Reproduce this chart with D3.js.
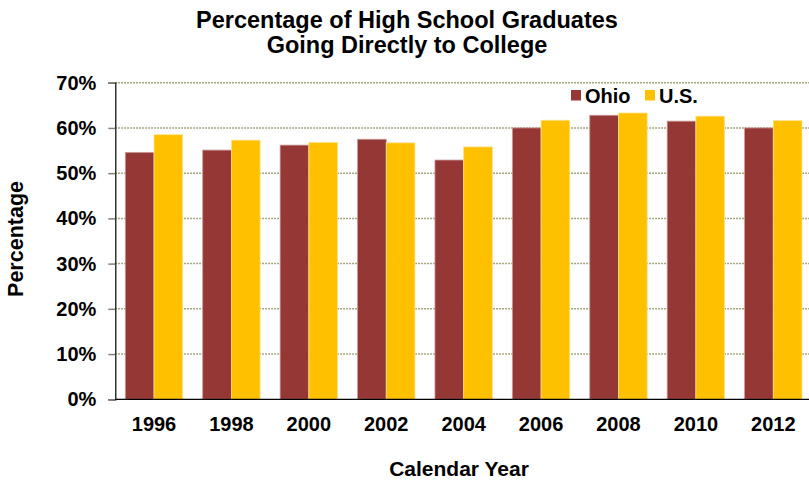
<!DOCTYPE html>
<html><head><meta charset="utf-8">
<script src="https://cdn.jsdelivr.net/npm/d3@7"></script>
<style>body{margin:0;background:#fff}svg{display:block;font-family:"Liberation Sans",Arial,sans-serif;font-weight:bold}</style>
</head><body><svg id="c" width="809" height="484"></svg>
<script>
const years = ["1996","1998","2000","2002","2004","2006","2008","2010","2012"];
const ohio = [54.6,55.1,56.2,57.5,52.9,60.0,62.8,61.5,60.0];
const us = [58.5,57.3,56.8,56.7,55.8,61.7,63.3,62.6,61.6];
const yTicks = [0,10,20,30,40,50,60,70];
const seriesNames = ["Ohio","U.S."];
const colors = ["#953735","#FFC000"];

const svg = d3.select("#c");
const m = {l:115.3, t:82.7, r:812, b:399.3};
const x = d3.scaleBand().domain(years).range([m.l, m.r]).paddingInner(20/77.4).paddingOuter(10/77.4);
const xs = d3.scaleBand().domain(seriesNames).range([0, x.bandwidth()]);
const y = d3.scaleLinear().domain([0,70]).range([m.b, m.t]);

// gridlines
svg.append("g").selectAll("line").data(yTicks.filter(d=>d>0)).join("line")
  .attr("x1", m.l).attr("x2", 809).attr("y1", d=>y(d)).attr("y2", d=>y(d))
  .attr("stroke","#8f8a5a").attr("stroke-width",1.5).attr("stroke-dasharray","1.5,1.5");

// bars
const data = years.map((yr,i)=>({yr, vals:[ohio[i], us[i]]}));
const g = svg.append("g").selectAll("g").data(data).join("g").attr("transform", d=>`translate(${x(d.yr)},0)`);
g.selectAll("rect").data(d=>d.vals.map((v,j)=>({v,s:seriesNames[j],j}))).join("rect")
  .attr("x", d=>xs(d.s)).attr("width", xs.bandwidth())
  .attr("y", d=>y(d.v)).attr("height", d=>y(0)-y(d.v))
  .attr("fill", d=>colors[d.j])
  .attr("stroke", d=>d.j===0?"#c99a99":"#ffe08a").attr("stroke-width",0.8);

// y axis
const ya = d3.axisLeft(y).tickValues(yTicks).tickFormat(d=>d+"%").tickSize(7).tickPadding(12);
const yg = svg.append("g").attr("transform",`translate(${m.l},0)`).call(ya);
yg.select(".domain").attr("stroke","#000").attr("stroke-width",1.2);
yg.selectAll(".tick line").attr("stroke","#808080").attr("stroke-width",1.5);
yg.selectAll(".tick text").attr("font-size",20).attr("font-weight","bold").attr("fill","#000")
  .attr("font-family","Liberation Sans, Arial, sans-serif");

// x axis
const xa = d3.axisBottom(x).tickSize(0).tickPadding(17.5);
const xg = svg.append("g").attr("transform",`translate(0,${m.b})`).call(xa);
xg.select(".domain").attr("d", `M${m.l},0H809`).attr("stroke","#000").attr("stroke-width",1.2);
xg.selectAll(".tick text").attr("font-size",20).attr("font-weight","bold").attr("fill","#000")
  .attr("font-family","Liberation Sans, Arial, sans-serif");

// title
svg.append("text").attr("text-anchor","middle").attr("font-size",23.5).attr("x",407).attr("y",27.5)
  .text("Percentage of High School Graduates");
svg.append("text").attr("text-anchor","middle").attr("font-size",23.5).attr("x",407).attr("y",52.5)
  .text("Going Directly to College");

// axis titles
svg.append("text").attr("x",459).attr("y",476).attr("text-anchor","middle").attr("font-size",21).text("Calendar Year");
svg.append("text").attr("transform","translate(23,239) rotate(-90)").attr("text-anchor","middle").attr("font-size",21.5).text("Percentage");

// legend
const lg = svg.append("g");
const lx = [571, 645];
seriesNames.forEach((s,i)=>{
  lg.append("rect").attr("x",lx[i]).attr("y",90).attr("width",10).attr("height",10.5).attr("fill",colors[i]);
  lg.append("text").attr("x",lx[i]+14).attr("y",103).attr("font-size",20).text(s);
});
</script></body></html>
